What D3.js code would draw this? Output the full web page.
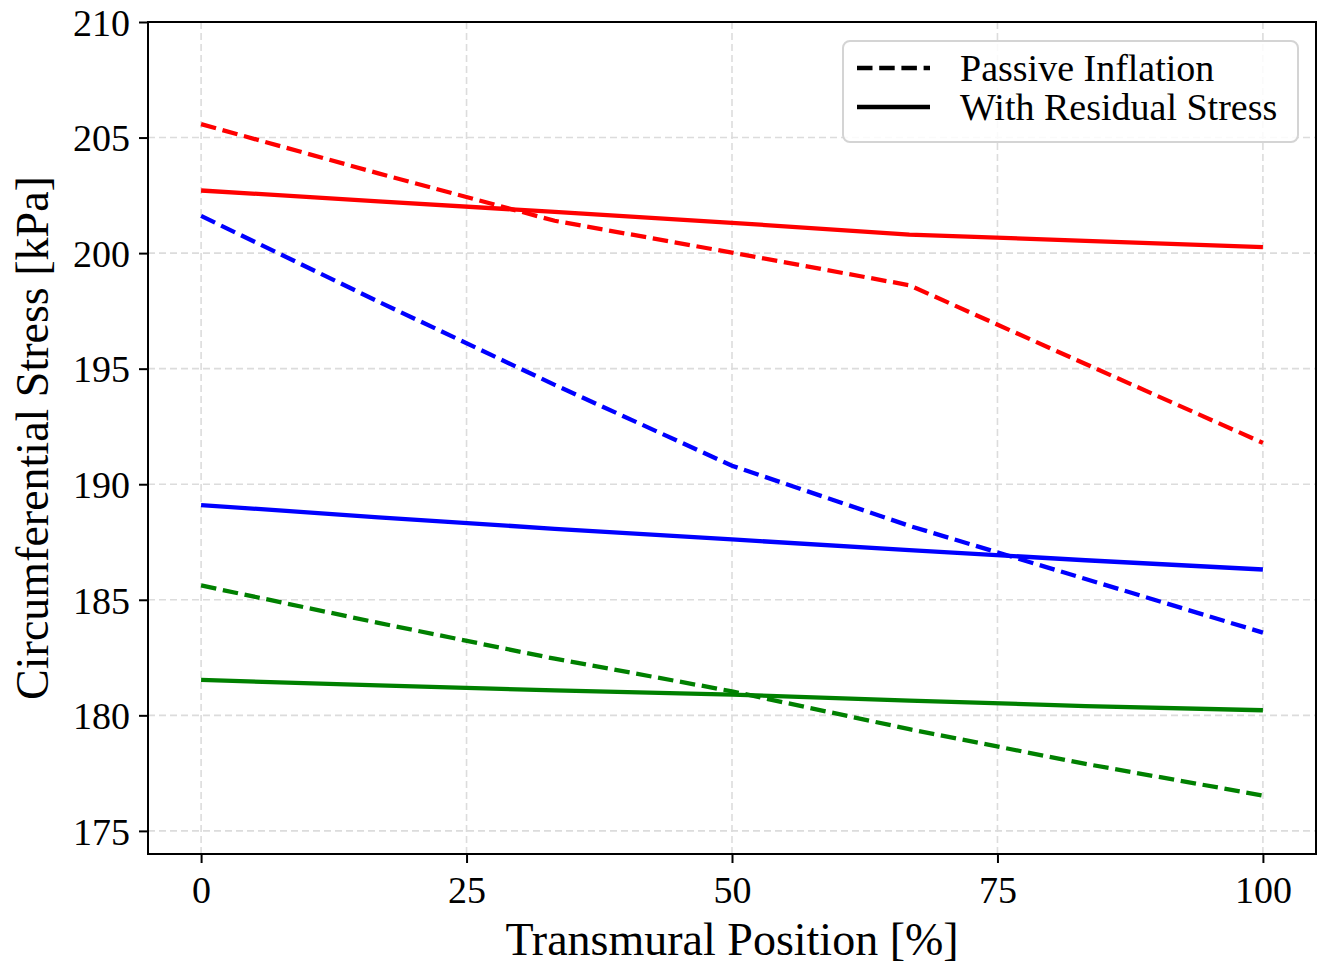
<!DOCTYPE html>
<html>
<head>
<meta charset="utf-8">
<script src="https://cdn.jsdelivr.net/npm/d3@7.9.0/dist/d3.min.js"></script>
<style>
  body { margin: 0; background: #fff; }
  svg text { font-family: "Liberation Serif", "DejaVu Serif", serif; fill: #000; }
</style>
</head>
<body>
<svg id="chart" width="1326" height="969"></svg>
<script>
// transmural positions [%]
const positions = [0, 16.7, 33.3, 50, 66.7, 83.3, 100];

// circumferential stress [kPa]
const redPassive   = [205.58, 203.45, 201.40, 200.02, 198.61, 195.20, 191.79];
const redResidual  = [202.71, 202.24, 201.78, 201.31, 200.80, 200.53, 200.26];
const bluePassive  = [201.61, 197.90, 194.30, 190.80, 188.20, 185.90, 183.58];
const blueResidual = [189.10, 188.57, 188.07, 187.61, 187.15, 186.71, 186.31];
const greenPassive  = [185.62, 184.00, 182.45, 181.04, 179.40, 177.90, 176.53];
const greenResidual = [181.53, 181.30, 181.08, 180.90, 180.64, 180.40, 180.22];

const xTicks = [0, 25, 50, 75, 100];
const yTicks = [175, 180, 185, 190, 195, 200, 205, 210];

const series = [
  { values: redPassive,    color: 'red',   dashed: true },
  { values: redResidual,   color: 'red',   dashed: false },
  { values: bluePassive,   color: 'blue',  dashed: true },
  { values: blueResidual,  color: 'blue',  dashed: false },
  { values: greenPassive,  color: 'green', dashed: true },
  { values: greenResidual, color: 'green', dashed: false },
];

const legendItems = [
  { label: 'Passive Inflation', dashed: true },
  { label: 'With Residual Stress', dashed: false },
];

const svg = d3.select('#chart');
const plotL = 148, plotR = 1316, plotT = 22, plotB = 854;

const x = d3.scaleLinear().domain([-5, 105]).range([plotL, plotR]);
const y = d3.scaleLinear().domain([174, 210]).range([plotB, plotT]);

const LW = 4.3;
const DASH = '15.5,6.7';

// grid
const grid = svg.append('g')
  .attr('stroke', '#dcdcdc')
  .attr('stroke-width', 1.6)
  .attr('stroke-dasharray', '7,4');
grid.selectAll('.gx').data(xTicks).join('line')
  .attr('x1', d => x(d)).attr('x2', d => x(d))
  .attr('y1', plotT).attr('y2', plotB);
grid.selectAll('.gy').data(yTicks).join('line')
  .attr('x1', plotL).attr('x2', plotR)
  .attr('y1', d => y(d)).attr('y2', d => y(d));

// lines
const line = d3.line()
  .x((d, i) => x(positions[i]))
  .y(d => y(d));

svg.append('g').selectAll('path').data(series).join('path')
  .attr('d', d => line(d.values))
  .attr('fill', 'none')
  .attr('stroke', d => d.color)
  .attr('stroke-width', LW)
  .attr('stroke-dasharray', d => d.dashed ? DASH : null);

// axes
const xAxis = d3.axisBottom(x).tickValues(xTicks).tickSize(9).tickPadding(10).tickFormat(d3.format('d'));
const yAxis = d3.axisLeft(y).tickValues(yTicks).tickSize(9).tickPadding(9).tickFormat(d3.format('d'));

const gx = svg.append('g').attr('transform', `translate(0,${plotB})`).call(xAxis);
const gy = svg.append('g').attr('transform', `translate(${plotL},0)`).call(yAxis);
[gx, gy].forEach(g => {
  g.select('.domain').remove();
  g.selectAll('.tick line').attr('stroke', '#000').attr('stroke-width', 2);
  g.selectAll('.tick text').attr('font-size', 38).attr('font-family', '"Liberation Serif", serif');
});
gx.selectAll('.tick text').attr('dy', '0.78em');
gy.selectAll('.tick text').attr('dy', '0.35em');

// frame
svg.append('rect')
  .attr('x', plotL).attr('y', plotT)
  .attr('width', plotR - plotL).attr('height', plotB - plotT)
  .attr('fill', 'none').attr('stroke', '#000').attr('stroke-width', 2);

// axis titles
svg.append('text')
  .attr('x', (plotL + plotR) / 2).attr('y', 955)
  .attr('text-anchor', 'middle').attr('font-size', 46)
  .text('Transmural Position [%]');

svg.append('text')
  .attr('transform', `translate(48,${(plotT + plotB) / 2}) rotate(-90)`)
  .attr('text-anchor', 'middle').attr('font-size', 46)
  .text('Circumferential Stress [kPa]');

// legend
const lg = svg.append('g');
lg.append('rect')
  .attr('x', 843).attr('y', 41).attr('width', 455).attr('height', 101)
  .attr('rx', 7).attr('fill', '#fff').attr('fill-opacity', 0.85)
  .attr('stroke', '#d4d4d4').attr('stroke-width', 2);

const rows = lg.selectAll('.row').data(legendItems).join('g')
  .attr('transform', (d, i) => `translate(0,${68 + i * 39})`);
rows.append('line')
  .attr('x1', 857).attr('x2', 930)
  .attr('stroke', '#000').attr('stroke-width', LW)
  .attr('stroke-dasharray', d => d.dashed ? DASH : null);
rows.append('text')
  .attr('x', 960).attr('dy', '0.33em')
  .attr('font-size', 38)
  .text(d => d.label);
</script>
</body>
</html>
